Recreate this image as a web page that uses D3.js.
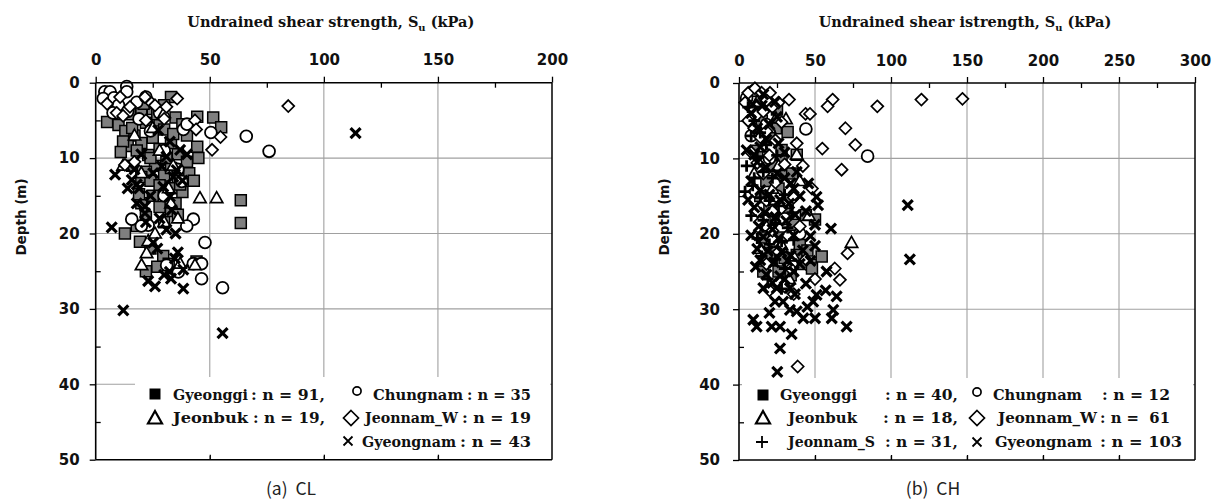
<!DOCTYPE html>
<html><head><meta charset="utf-8">
<script src="https://cdn.jsdelivr.net/npm/d3@7"></script>
<style>body{margin:0;background:#fff} svg{display:block}</style>
</head><body>
<svg id="c" width="1222" height="503"></svg>
<script>
// ---------------- DATA ([Su (kPa), depth (m)]) ----------------
const clXTicks = [0, 50, 100, 150, 200];
const chXTicks = [0, 50, 100, 150, 200, 250, 300];
const depthTicks = [0, 10, 20, 30, 40, 50];

const clGyeonggi = [[33,1.9],[30,3],[25,3.5],[20,4],[15,4.2],[8,4.8],[5,5.2],[10,5.6],[13,6.4],[17,7],[22,5.3],[28,5],[35,4.6],[38,5.5],[44.5,4.5],[51.5,4.6],[55,5.9],[44.5,8.5],[30,6.2],[25,7.3],[20,8],[14,8.4],[18,9],[23,9.6],[28,8.8],[33,8],[36,9.5],[40,10.5],[26,11],[22,11.8],[30,12.3],[33,11.3],[36,12.5],[39,12.8],[41,12],[20,12.5],[24,13],[28,13.6],[34,14],[38,14.5],[31,15.4],[35,16],[33,17],[28,16.5],[22,17.8],[36,17.5],[18,19],[12.8,20],[19.4,21.1],[29.6,23],[44.2,23.7],[63.6,15.6],[63.6,18.6],[24,10],[12,7.8],[16,6],[27,4.2],[40,7],[34,6.8],[9,3.6],[21,2.8],[31,10],[37,13.5],[25,15],[30,18.5],[20,16],[24,22],[27,24.4],[32,24],[22,25],[16,11],[19,14.8],[11,9.2],[43,13],[45,10]];
const clChungnam = [[13.6,0.5],[4,1.2],[6.3,1.2],[13.6,1.2],[3.3,2.1],[8,2],[18,2.6],[10,3],[7.6,4],[22,1.9],[14,3.8],[19,4.8],[28,4],[38.4,6.2],[50.5,6.6],[66,7.1],[76,9.1],[24,6.4],[42.8,18.1],[39.9,19],[15.8,18.1],[47.9,21.2],[42.8,24],[46.4,24],[31.1,24.2],[36.2,25.1],[46.4,26],[55.6,27.2],[37.7,13.1],[30,15],[23,18.9],[36,11.5],[40,5.5],[30,9],[20,19]];
const clJeonbuk = [[45.7,15.3],[53,15.3],[22.3,22.6],[20.1,24.2],[43.5,24.2],[23,21],[30,18.5],[25,6],[33,16],[32,14],[20,12],[28,9],[34,11],[17,7],[36,18],[26,20],[37,24],[12,11],[30,4]];
const clJeonnamW = [[84.4,3.1],[51,8.9],[54.7,7.2],[43.5,5],[44,6.2],[35.7,2.1],[10.7,1.9],[21.6,1.9],[24.5,2.7],[31,3.2],[9.2,4],[12.8,10.9],[15,3.2],[12,4.4],[26,3],[22,5],[30,4.8],[5,2.8],[17,10.5]];
const clGyeongnam = [[113.9,6.7],[7,19.2],[25.2,21.2],[34.7,23.3],[32.5,25.1],[38.4,24.8],[23,26.3],[38.4,27.3],[12.1,30.2],[55.6,33.2],[8.5,12.2],[15.8,12.9],[19.1,14],[18,16],[21.6,16.4],[21.6,17.3],[33.3,16.9],[37,8.9],[32.5,7.8],[31,9.8],[29,11.1],[25.2,12],[34,12.5],[29.6,13.8],[27.4,6.3],[35.5,11.6],[32.5,15.1],[27,22],[30,25.5],[36,22.5],[20,9.5],[18,13.5],[24,15],[28,18],[31,19.5],[17,11.5],[14,14],[26,27],[33,26],[22,18.5],[35,20],[40,9.5],[38,13]];

const chGyeonggi = [[24.3,6],[28,8.9],[28,10.4],[28,12],[19.3,19.7],[16,25],[21.5,23.5],[47.8,24.1],[54.4,23],[50,18.1],[38,9.5],[20,7],[15,5],[12,9],[22,11],[18,13],[26,14],[32,15.5],[20,16.8],[24,18],[36,18.8],[28,20.5],[40,21.5],[22,22.5],[30,23.2],[42,24],[26,25],[18,23],[34,25.5],[14,15],[30,17],[16,20.5],[38,22.8],[45,22.2],[35,12],[10,6.5],[25,3.5],[32,6.5],[44,17.5],[48,24.6]];
const chChungnam = [[44,6.1],[84.6,9.7],[10,1],[5,2],[14,3.5],[20,10],[18,5.5],[8,7],[25,15],[30,18],[22,21],[40,20]];
const chJeonbuk = [[74,21.2],[24.3,4.7],[30.9,4.8],[38,9.5],[20,6],[12,2.5],[16,8.5],[26,11],[22,14],[30,16],[46,17.6],[18,19],[28,21.5],[36,23],[14,22],[40,13],[10,12],[33,26]];
const chJeonnamW = [[120,2.2],[91,3.1],[61.6,2.2],[58.3,3.1],[43.8,4.1],[46.7,4.1],[70,6],[76.5,8.2],[54.8,8.7],[67.5,11.5],[32.9,2.2],[147,2.1],[71.4,22.6],[63,24.6],[66.4,26.1],[38.6,37.6],[6.1,1.3],[10.5,0.7],[14.9,1.3],[20.4,1.3],[18.2,2.3],[4,2.6],[8,3.4],[12,4.2],[16,3.8],[22,3.2],[26,2.6],[6,5],[10,6],[14,7.2],[18,6.4],[24,7.6],[28,5.2],[8,9.2],[12,10.6],[20,9.6],[30,10.8],[16,12],[24,13.2],[10,14.4],[18,15.6],[28,16.6],[36,15.2],[14,18.4],[22,19.6],[32,20.2],[40,19],[26,22.4],[44,23.4],[18,24],[34,24.6],[50,26],[30,27],[12,17],[38,8],[42,11],[22,17],[20,27.5],[48,14],[36,28]];
const chJeonnamS = [[6,3.2],[10,5],[14,6.6],[8,7],[18,8.2],[12,9.8],[5,11],[16,11.8],[22,12.6],[9,13.6],[14,15.2],[20,15.6],[26,16.3],[30,14.8],[8,17.6],[16,18.2],[24,18.6],[32,19.2],[12,20.6],[20,21.4],[28,21],[36,20.8],[15,23],[24,23.4],[30,24.6],[19,26],[10,12.6],[25,9.6],[35,17.2],[28,27.3],[4,14.4]];
const chGyeongnam = [[23.7,2.5],[15,3],[8,4],[12,6],[18,7.5],[5,8.9],[10,9.5],[14,8.5],[20,5.5],[26,8],[30,9.2],[9,2.8],[25,4.5],[16,1.5],
[12,10.5],[18,11.2],[25,12],[30,12.6],[34,13.3],[45.6,13.3],[38,11.8],[8,13],[14,14.2],[20,14.8],[27,15.5],[33,16],[40,15],[51,15.1],[52,16.2],[10,16.5],[17,17.2],[24,17.8],[31,18.3],[37,17.5],[44,17],[50,18.8],[60.5,19.3],[111,16.2],[22,19.4],[13,19],[6,15.5],[36,14],
[8,20.2],[16,20.4],[26,20.6],[36,20.2],[47,20.3],[12,22],[19,22.3],[28,22.4],[34,22.9],[42,22.2],[50,21.6],[14,23.5],[23,23.8],[32,23.6],[40,24],[47,23.6],[112.4,23.4],[57.6,25],[18,25.4],[27,25.6],[36,25],[11,24.4],[22,26.5],[30,26],[44,26.6],
[16,27.2],[24.8,27.2],[33.5,27.2],[36.8,28],[23.7,29],[29,29],[48.8,29],[51,28.1],[64.2,28.3],[62,30.1],[61,31.2],[50,31.2],[42.3,31.2],[33.5,30.1],[38,30.3],[9.4,31.4],[11.6,32.3],[21.5,32.3],[27,32.3],[70.8,32.3],[34.6,33.3],[27,35.2],[25.2,38.3],[20,30.5],[45,29.7],[57,27.5]];

const clLegend = [
  {sym:"squareL", mx:155, my:394, parts:[["Gyeonggi",173,75],[": n = 91,",251,74]], row:0},
  {sym:"circleL", mx:357, my:391, parts:[["Chungnam",373,90],[": n = 35",467,64]], row:0},
  {sym:"triangleL", mx:155, my:418, parts:[["Jeonbuk",173,75],[": n = 19,",253,72]], row:1},
  {sym:"diamondL", mx:351, my:418, parts:[["Jeonnam_W",365,93],[": n = 19",462,69]], row:1},
  {sym:"crossL", mx:348, my:441, parts:[["Gyeongnam",362,94],[": n = 43",460,71]], row:2}
];
const chLegend = [
  {sym:"squareL", mx:763, my:395, parts:[["Gyeonggi",780,77],[": n = 40,",885,73]], row:0},
  {sym:"circleL", mx:977, my:392, parts:[["Chungnam",993,89],[": n = 12",1102,68]], row:0},
  {sym:"triangleL", mx:763, my:418, parts:[["Jeonbuk",788,69],[": n = 18,",883,75]], row:1},
  {sym:"diamondL", mx:977, my:418, parts:[["Jeonnam_W",998,99],[": n =  61",1100,70]], row:1},
  {sym:"plusL", mx:762, my:442, parts:[["Jeonnam_S",788,87],[": n = 31,",885,73]], row:2},
  {sym:"crossL", mx:977, my:442, parts:[["Gyeongnam",995,97],[": n = 103",1100,82]], row:2}
];

// ---------------- DRAWING ----------------
const svg = d3.select("#c");
svg.append("rect").attr("width",1222).attr("height",503).attr("fill","#fff");

const shapes = {
  square: "M-5.5,-5.5h11v11h-11z",
  triangle: "M0,-6.4L6.2,4.5L-6.2,4.5Z",
  diamond: "M0,-6L6,0L0,6L-6,0Z",
  cross: "M-5,-5L5,5M-5,5L5,-5",
  plus: "M-5.8,0H5.8M0,-5.8V5.8",
  squareL: "M-5.5,-5.5h11v11h-11z",
  triangleL: "M0,-7L7,5.5L-7,5.5Z",
  diamondL: "M0,-7.5L7.5,0L0,7.5L-7.5,0Z",
  crossL: "M-4.5,-4.5L4.5,4.5M-4.5,4.5L4.5,-4.5",
  plusL: "M-6,0H6M0,-6V6"
};
const rowBase = [399.5, 423, 446.5];

function drawPanel(p) {
  const x = d3.scaleLinear().domain([0, p.xMax]).range([p.x0, p.x1]);
  const y = d3.scaleLinear().domain([0, 50]).range([p.y0, p.y1]);
  const g = svg.append("g");

  // gridlines
  g.append("g").selectAll("line").data(p.xTicks.filter(t => t > 0 && t < p.xMax)).join("line")
    .attr("x1", d => x(d)).attr("x2", d => x(d)).attr("y1", y(0)).attr("y2", y(50))
    .attr("stroke", "#a0a0a0").attr("stroke-width", 1.1);
  g.append("g").selectAll("line").data(depthTicks.filter(t => t > 0 && t < 50)).join("line")
    .attr("x1", x(0)).attr("x2", x(p.xMax)).attr("y1", d => y(d)).attr("y2", d => y(d))
    .attr("stroke", "#a0a0a0").attr("stroke-width", 1.1);

  // legend background box
  g.append("rect").attr("x", p.lbox[0]).attr("y", p.lbox[1]).attr("width", p.lbox[2]).attr("height", p.lbox[3]).attr("fill", "#fff");

  // data points
  const pts = g.append("g");
  function plot(data, type) {
    const sel = pts.append("g").selectAll("path").data(data).join("path")
      .attr("transform", d => `translate(${x(d[0])},${y(d[1])})`);
    if (type === "square") sel.attr("d", shapes.square).attr("fill", "#7f7f7f").attr("stroke", "#000").attr("stroke-width", 1.5);
    else if (type === "circle") sel.attr("d", d3.symbol(d3.symbolCircle, 110)()).attr("fill", "#fff").attr("stroke", "#000").attr("stroke-width", 1.8);
    else if (type === "triangle") sel.attr("d", shapes.triangle).attr("fill", "#fff").attr("stroke", "#000").attr("stroke-width", 1.7);
    else if (type === "diamond") sel.attr("d", shapes.diamond).attr("fill", "#fff").attr("stroke", "#000").attr("stroke-width", 1.7);
    else if (type === "cross") sel.attr("d", shapes.cross).attr("fill", "none").attr("stroke", "#000").attr("stroke-width", 3.2);
    else if (type === "plus") sel.attr("d", shapes.plus).attr("fill", "none").attr("stroke", "#000").attr("stroke-width", 2.8);
  }
  p.series.forEach(s => plot(s[0], s[1]));

  // border (right and bottom)
  g.append("line").attr("x1", x(p.xMax)).attr("x2", x(p.xMax)).attr("y1", y(0)).attr("y2", y(50)).attr("stroke", "#000").attr("stroke-width", 1.5);
  g.append("line").attr("x1", x(0)).attr("x2", x(p.xMax)).attr("y1", y(50)).attr("y2", y(50)).attr("stroke", "#000").attr("stroke-width", 1.5);

  const minorX = d3.range(25, p.xMax, 50);
  const minorY = d3.range(5, 50, 10);

  // top axis
  g.append("g").attr("transform", `translate(0,${y(0)})`)
    .call(d3.axisTop(x).tickValues(p.xTicks).tickSize(6).tickSizeOuter(0).tickPadding(11.5));
  g.append("g").attr("transform", `translate(0,${y(0)})`)
    .call(d3.axisTop(x).tickValues(minorX).tickSize(-5).tickSizeOuter(0).tickFormat(""));
  // left axis
  g.append("g").attr("transform", `translate(${x(0)},0)`)
    .call(d3.axisLeft(y).tickValues(depthTicks).tickSize(6).tickSizeOuter(0).tickPadding(p.yPad));
  g.append("g").attr("transform", `translate(${x(0)},0)`)
    .call(d3.axisLeft(y).tickValues(minorY).tickSize(-5).tickSizeOuter(0).tickFormat(""));
  // bottom inward ticks
  g.append("g").attr("transform", `translate(0,${y(50)})`)
    .call(d3.axisBottom(x).tickValues(p.xTicks.filter(t => t > 0 && t < p.xMax)).tickSize(-5).tickSizeOuter(0).tickFormat(""));

  g.selectAll(".domain").remove();
  g.selectAll(".tick line").attr("stroke", "#000").attr("stroke-width", 1.3);
  g.selectAll(".tick text").attr("font-family", "'DejaVu Sans', Verdana, sans-serif")
    .attr("font-weight", "bold").attr("font-size", 15).attr("fill", "#111");

  // axis lines
  g.append("line").attr("x1", x(0)).attr("x2", x(p.xMax)).attr("y1", y(0)).attr("y2", y(0)).attr("stroke", "#000").attr("stroke-width", 1.6);
  g.append("line").attr("x1", x(0)).attr("x2", x(0)).attr("y1", y(0)).attr("y2", y(50)).attr("stroke", "#000").attr("stroke-width", 1.6);

  // title
  const t = g.append("text").attr("x", (p.x0 + p.x1) / 2 + p.titleDx).attr("y", 27)
    .attr("text-anchor", "middle").attr("font-family", "'DejaVu Serif', serif").attr("font-weight", "bold")
    .attr("font-size", 14.5).attr("fill", "#111");
  t.append("tspan").text(p.title);
  t.append("tspan").attr("dy", 3.5).attr("font-size", 10).text("u");
  t.append("tspan").attr("dy", -3.5).text(" (kPa)");

  // y label
  g.append("text").attr("transform", `translate(${p.ylabX},217) rotate(-90)`)
    .attr("text-anchor", "middle").attr("font-family", "'DejaVu Sans', Verdana, sans-serif").attr("font-weight", "bold")
    .attr("font-size", 13.5).attr("fill", "#111").text("Depth (m)");

  // legend
  const lg = g.append("g");
  p.legend.forEach(e => {
    const m = lg.append("path").attr("transform", `translate(${e.mx},${e.my})`).attr("d", e.sym === "circleL" ? d3.symbol(d3.symbolCircle, 52)() : shapes[e.sym]);
    if (e.sym === "squareL") m.attr("fill", "#000");
    else if (e.sym === "crossL" || e.sym === "plusL") m.attr("fill", "none").attr("stroke", "#000").attr("stroke-width", 1.8);
    else m.attr("fill", "none").attr("stroke", "#000").attr("stroke-width", e.sym === "triangleL" ? 2.2 : 1.7);
    e.parts.forEach(pt => {
      lg.append("text").attr("x", pt[1]).attr("y", rowBase[e.row])
        .attr("font-family", "'DejaVu Serif', serif").attr("font-weight", "bold").attr("font-size", 14)
        .attr("fill", "#111").attr("textLength", pt[2]).attr("lengthAdjust", "spacingAndGlyphs")
        .style("white-space", "pre").text(pt[0]);
    });
  });

  // caption
  g.append("text").attr("x", p.capX).attr("y", 495).attr("text-anchor", "middle")
    .attr("font-family", "'Noto Sans CJK KR', 'Noto Sans', sans-serif").attr("font-size", 17.5)
    .attr("fill", "#222").style("white-space", "pre").text(p.caption);
}

drawPanel({
  xMax: 200, x0: 95.7, x1: 552, y0: 82.7, y1: 459.7, xTicks: clXTicks, yPad: 10,
  title: "Undrained shear strength, S", titleDx: 7, ylabX: 26,
  lbox: [135, 377, 415, 79],
  series: [[clGyeonggi, "square"], [clChungnam, "circle"], [clJeonbuk, "triangle"], [clJeonnamW, "diamond"], [clGyeongnam, "cross"]],
  legend: clLegend, caption: "(a)  CL", capX: 291
});
drawPanel({
  xMax: 300, x0: 739, x1: 1195, y0: 83, y1: 460, xTicks: chXTicks, yPad: 13,
  title: "Undrained shear istrength, S", titleDx: -2, ylabX: 669,
  lbox: [742, 378, 451, 78],
  series: [[chGyeonggi, "square"], [chChungnam, "circle"], [chJeonbuk, "triangle"], [chJeonnamW, "diamond"], [chJeonnamS, "plus"], [chGyeongnam, "cross"]],
  legend: chLegend, caption: "(b)  CH", capX: 933
});
</script>
</body></html>
